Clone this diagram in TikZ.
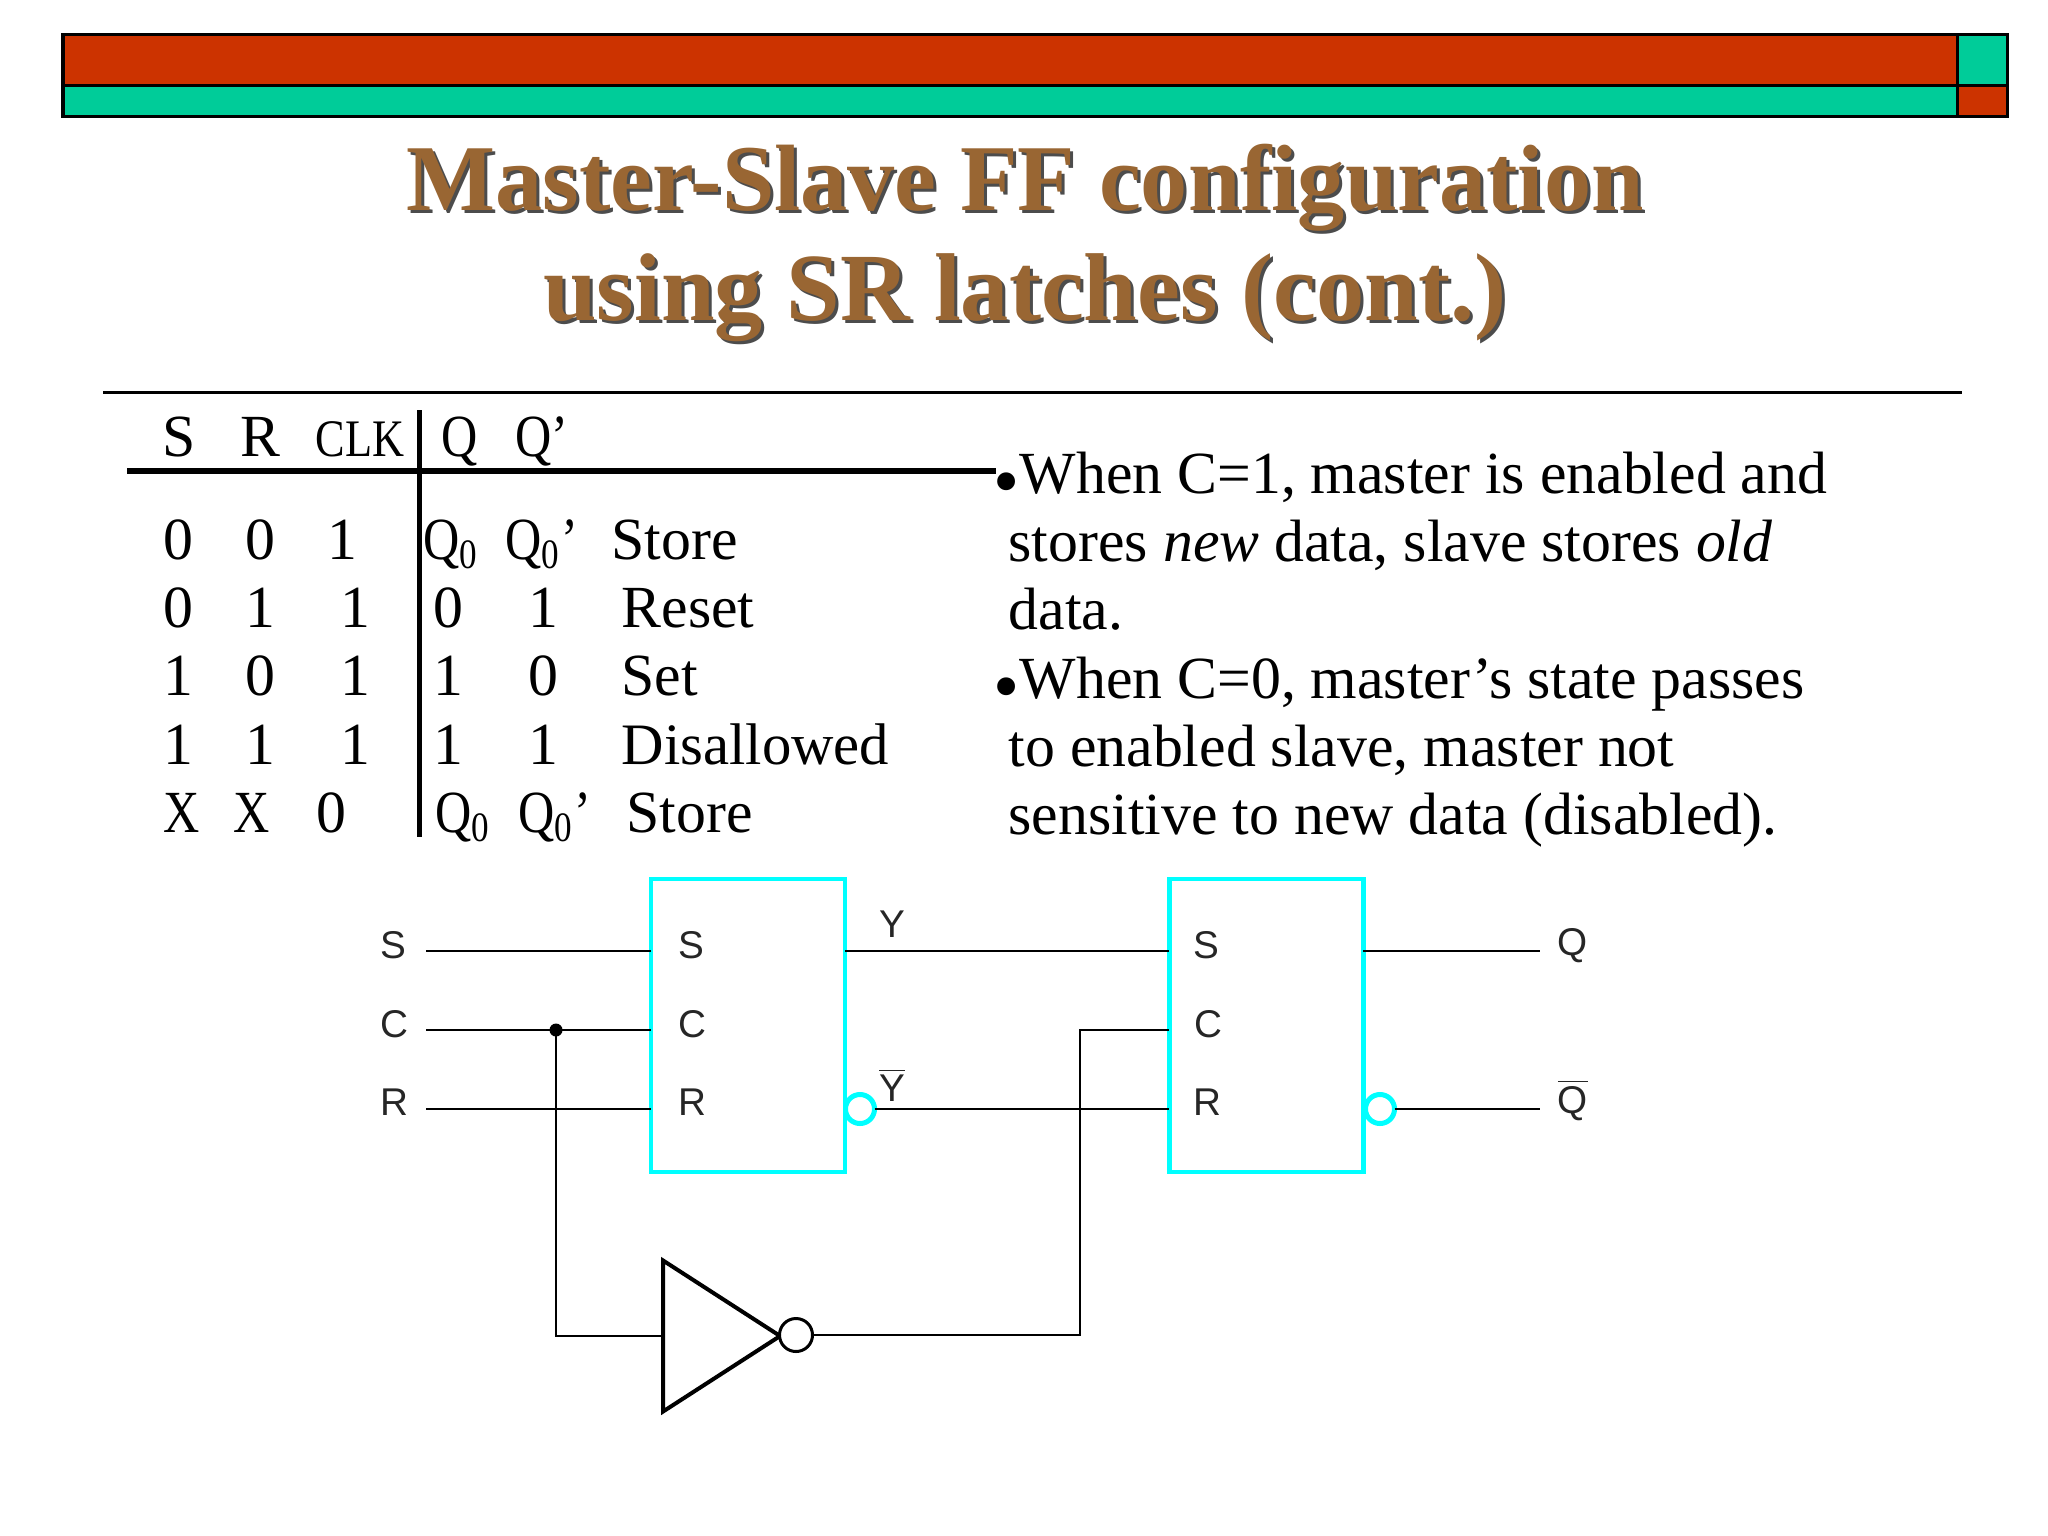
\documentclass[tikz,border=0pt]{standalone}
\usepackage{fontspec}
\setmainfont{Liberation Serif}
\setsansfont{Liberation Sans}
\newfontfamily\narrowfont[FakeStretch=0.84]{Liberation Serif}
\usetikzlibrary{
	positioning,
	shapes.geometric,
}
\definecolor{MyRed}{HTML}{CC3300}
\definecolor{MyGreen}{HTML}{00CC99}
\definecolor{MyBrown}{HTML}{996633}
\definecolor{MyCyan}{HTML}{00FFFF}

\begin{document}
\begin{tikzpicture}	[
				x=0.01cm,y=-0.01cm,
				bar/.style={draw=black,line width=0.03cm},
				titletext/.style={align=center,inner sep=0,font=\fontsize{26.8}{31.3}\selectfont\bfseries},
				cell/.style={anchor=base west,inner sep=0,font=\fontsize{17}{20}\selectfont},
				narrowcell/.style={cell,font=\fontsize{17}{20}\narrowfont},
				para/.style={anchor=north west,inner sep=0,align=left,font=\fontsize{17}{19.35}\selectfont},
				latch/.style={rectangle,draw=MyCyan,line width=0.045cm,inner sep=0,outer sep=0,minimum width=1.94cm,minimum height=2.93cm},
				bubble/.style={circle,draw=MyCyan,line width=0.05cm,fill=white,inner sep=0,outer sep=0,minimum size=0.29cm},
				port/.style={inner sep=0,font=\fontsize{11}{13}\selectfont\sffamily,text=black!85},
				wire/.style={draw=black,line width=0.02cm},
			]
			\useasboundingbox (0,0) rectangle (2048,1536);

			% top bar
			\draw[bar,fill=MyRed] (63,34) rectangle (1957,85);
			\draw[bar,fill=MyGreen] (63,85) rectangle (1957,116);
			\draw[bar,fill=MyGreen] (1957,34) rectangle (2007,85);
			\draw[bar,fill=MyRed] (1957,85) rectangle (2007,116);

			% title
			\node (titleshadow) [titletext,text=black!70] at (1028,246) {Master-Slave FF configuration\\{\fontsize{27.4}{31.3}\selectfont using SR latches (cont.)}};
			\node (title) [titletext,text=MyBrown] at (1025,243) {Master-Slave FF configuration\\{\fontsize{27.4}{31.3}\selectfont using SR latches (cont.)}};
			\draw[line width=0.03cm] (103,392) -- (1962,392);

			% table
			\node (hs) [cell] at (162,456) {S};
			\node (hr) [cell] at (240,456) {R};
			\node (hclk) [narrowcell,font=\fontsize{15}{20}\narrowfont] at (315,456) {CLK};
			\node (hq) [narrowcell] at (441,456) {Q};
			\node (hqn) [narrowcell] at (515,456) {Q’};

			\node (as) [cell] at (163,559) {0};
			\node (ar) [cell] at (245,559) {0};
			\node (ac) [cell] at (327,559) {1};
			\node (aq) [narrowcell] at (423,559) {Q\textsubscript{0}};
			\node (an) [narrowcell] at (505,559) {Q\textsubscript{0}’};
			\node (at) [cell] at (611,559) {Store};

			\node (bs) [cell] at (163,627) {0};
			\node (br) [cell] at (245,627) {1};
			\node (bc) [cell] at (340,627) {1};
			\node (bq) [cell] at (433,627) {0};
			\node (bn) [cell] at (528,627) {1};
			\node (bt) [cell] at (621,627) {Reset};

			\node (cs) [cell] at (163,695) {1};
			\node (cr) [cell] at (245,695) {0};
			\node (cc) [cell] at (340,695) {1};
			\node (cq) [cell] at (433,695) {1};
			\node (cn) [cell] at (528,695) {0};
			\node (ct) [cell] at (621,695) {Set};

			\node (ds) [cell] at (163,764) {1};
			\node (dr) [cell] at (245,764) {1};
			\node (dc) [cell] at (340,764) {1};
			\node (dq) [cell] at (433,764) {1};
			\node (dn) [cell] at (528,764) {1};
			\node (dt) [cell,font=\fontsize{16.7}{20}\selectfont] at (621,764) {Disallowed};

			\node (es) [narrowcell] at (163,832) {X};
			\node (er) [narrowcell] at (233,832) {X};
			\node (ec) [cell] at (316,832) {0};
			\node (eq) [narrowcell] at (435,832) {Q\textsubscript{0}};
			\node (en) [narrowcell] at (518,832) {Q\textsubscript{0}’};
			\node (et) [cell] at (626,832) {Store};

			\draw[line width=0.055cm] (127,471) -- (996,471);
			\draw[line width=0.05cm] (419,410) -- (419,837);

			% text on the right
			\node (enabled) [para] at (1008,451) {\hspace*{-0.15cm}\raisebox{-0.5ex}{\scalebox{1.25}{•}}When C=1, master is enabled and\\stores \textit{new} data, slave stores \textit{old}\\data.};
			\node (disabled) [para] at (1008,656) {\hspace*{-0.15cm}\raisebox{-0.5ex}{\scalebox{1.25}{•}}When C=0, master’s state passes\\to enabled slave, master not\\sensitive to new data (disabled).};

			% latches
			\node (master) [latch,anchor=north west] at (651,879) {};
			\node (slave) [latch,right=3.24cm of master] {};
			\node (masterbub) [bubble] at (860,1109) {};
			\node (slavebub) [bubble] at (1380,1109) {};
			\node (inv) [isosceles triangle,isosceles triangle stretches,draw,line width=0.04cm,inner sep=0,outer sep=0,minimum width=1.51cm,minimum height=1.17cm,anchor=lower side] at (663,1336) {};
			\node (invbub) [circle,draw,line width=0.03cm,fill=white,inner sep=0,outer sep=0,minimum size=0.33cm] at (796,1335) {};

			% ports
			\node (ins) [port] at (393,945) {S};
			\node (inc) [port] at (394,1024) {C};
			\node (inr) [port] at (394,1102) {R};
			\node (ms) [port] at (691,945) {S};
			\node (mc) [port] at (692,1024) {C};
			\node (mr) [port] at (692,1102) {R};
			\node (ss) [port] at (1206,945) {S};
			\node (sc) [port] at (1208,1024) {C};
			\node (sr) [port] at (1207,1102) {R};
			\node (y) [port] at (892,924) {Y};
			\node (yn) [port] at (892,1085) {$\overline{\mbox{Y}}$};
			\node (q) [port] at (1573,946) {Q};
			\node (qn) [port] at (1573,1100) {$\overline{\mbox{Q}}$};

			\coordinate (sleft) at (426,951);
			\coordinate (cleft) at (426,1030);
			\coordinate (rleft) at (426,1109);
			\coordinate (split) at (556,1030);
			\coordinate (qend) at (1540,951);
			\coordinate (qnend) at (1540,1109);
			\coordinate (turn) at (1080,1030);

			\draw[wire] (sleft) -- (sleft -| master.west);
			\draw[wire] (cleft) -- (cleft -| master.west);
			\draw[wire] (rleft) -- (rleft -| master.west);
			\draw[wire] (sleft -| master.east) -- (sleft -| slave.west);
			\draw[wire] (masterbub) -- (rleft -| slave.west);
			\draw[wire] (sleft -| slave.east) -- (qend);
			\draw[wire] (slavebub) -- (qnend);
			\draw[wire] (split) |- (inv.lower side);
			\draw[wire] (invbub) -| (turn) -- (turn -| slave.west);
			\fill (split) circle (0.065cm);
		\end{tikzpicture}
\end{document}
